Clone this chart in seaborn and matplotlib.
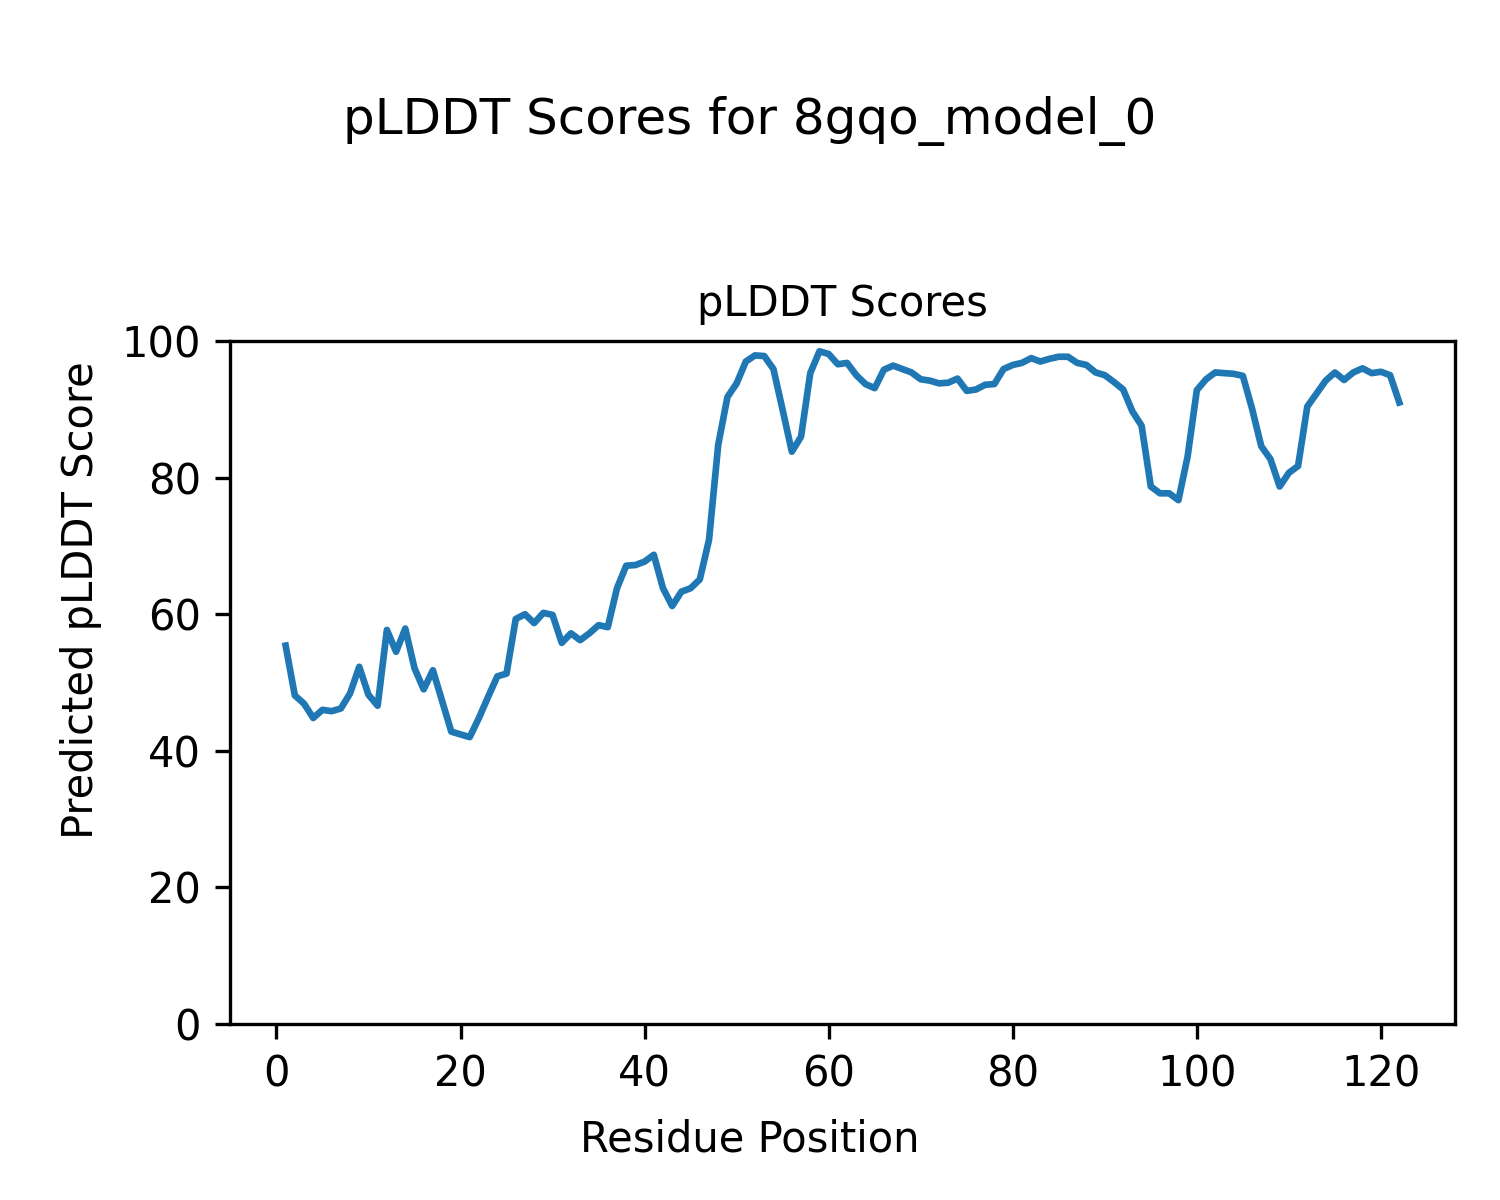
import matplotlib
matplotlib.use("Agg")
import matplotlib.pyplot as plt
import seaborn as sns
import numpy as np
import pandas as pd

residues = list(range(1, 123))
plddt = [
    55.4, 48.1, 46.9, 44.8, 46.0, 45.8, 46.2, 48.4, 52.3, 48.2,
    46.6, 57.7, 54.5, 57.9, 52.1, 49.0, 51.8, 47.3, 42.8, 42.4,
    42.0, 44.8, 47.9, 50.9, 51.3, 59.3, 60.0, 58.7, 60.2, 59.9,
    55.8, 57.2, 56.2, 57.2, 58.4, 58.1, 63.8, 67.1, 67.2, 67.7,
    68.7, 63.8, 61.2, 63.3, 63.8, 65.1, 70.9, 84.8, 91.8, 93.8,
    97.0, 97.9, 97.8, 95.9, 89.9, 83.8, 86.0, 95.3, 98.5, 98.1,
    96.6, 96.8, 95.0, 93.7, 93.1, 95.8, 96.4, 95.9, 95.4, 94.4,
    94.2, 93.8, 93.9, 94.5, 92.7, 92.9, 93.6, 93.7, 95.9, 96.5,
    96.8, 97.5, 97.0, 97.4, 97.7, 97.7, 96.8, 96.5, 95.4, 95.0,
    94.0, 92.9, 89.7, 87.6, 78.7, 77.7, 77.7, 76.7, 83.1, 92.8,
    94.4, 95.4, 95.3, 95.2, 94.9, 90.1, 84.6, 82.7, 78.7, 80.7,
    81.7, 90.4, 92.3, 94.2, 95.4, 94.3, 95.4, 96.0, 95.3, 95.5,
    95.0, 91.0,
]

df = pd.DataFrame({"Residue Position": residues, "pLDDT": plddt})

fig, ax = plt.subplots(figsize=(5, 4), dpi=300)
fig.subplots_adjust(left=0.1533, right=0.97, bottom=0.1467, top=0.7158)
sns.lineplot(data=df, x="Residue Position", y="pLDDT", ax=ax, color="#1f77b4", linewidth=1.6)
ax.set_ylim(0, 100)
ax.set_title("pLDDT Scores", fontsize=10)
ax.set_xlabel("")
ax.set_ylabel("")
ax.tick_params(labelsize=10)
fig.suptitle("pLDDT Scores for 8gqo_model_0", fontsize=12, y=0.92)
fig.text(0.5, 0.04, "Residue Position", ha="center", fontsize=10)
fig.text(0.04, 0.5, "Predicted pLDDT Score", va="center", rotation="vertical", fontsize=10)
fig.savefig("out.png", dpi=300)
